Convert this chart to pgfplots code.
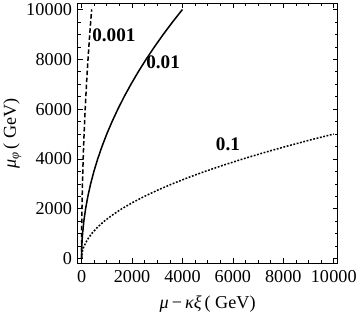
\documentclass[border=0pt]{standalone}
\usepackage{pgfplots}
\pgfplotsset{compat=1.18}
\usepackage{fontspec}
\setmainfont{Liberation Serif}
\begin{document}
\begin{tikzpicture}
\begin{axis}[
  scale only axis,
  width=258pt, height=258pt,
  xmin=-160, xmax=10160,
  ymin=-200, ymax=10250,
  scaled ticks=false,
  xtick={0,2000,4000,6000,8000,10000},
  ytick={0,2000,4000,6000,8000,10000},
  xticklabels={0,2000,4000,6000,8000,10\hspace{0.02em}000},
  yticklabels={0,2000,4000,6000,8000,10\hspace{0.02em}000},
  minor x tick num=3,
  minor y tick num=3,
  tick align=inside,
  major tick length=5pt,
  minor tick length=3pt,
  tick style={black, line width=0.6pt},
  axis line style={line width=0.9pt},
  tick label style={font=\fontsize{18}{20}\selectfont},
  yticklabel style={xshift=-2pt},
  xticklabel style={yshift=-3pt},
  label style={font=\fontsize{18}{20}\selectfont},
  xlabel={\textit{μ}\,−\,\textit{κξ}\,( GeV)},
  ylabel={\textit{μ}\textsubscript{\itshape φ}\,( GeV)},
  xlabel style={yshift=-6pt},
  ylabel style={yshift=-2pt},
  clip=true,
]
\addplot[black, line width=1.5pt, dash pattern=on 4.5pt off 2.5pt] coordinates {
(0,0) (0.25,250) (1,500) (4,1000) (9,1500) (16,2000) (25,2500) (36,3000) (49,3500) (64,4000) (81,4500) (100,5000) (121,5500) (144,6000) (169,6500) (196,7000) (225,7500) (256,8000) (289,8500) (324,9000) (361,9500) (400,10000)
};
\addplot[black, line width=1.5pt] coordinates {
(0,0) (0.4,100) (2.5,250) (10,500) (22.5,750) (40,1000) (90,1500) (160,2000) (250,2500) (360,3000) (490,3500) (640,4000) (810,4500) (1000,5000) (1210,5500) (1440,6000) (1690,6500) (1960,7000) (2250,7500) (2560,8000) (2890,8500) (3240,9000) (3610,9500) (4000,10000)
};
\addplot[black, line width=1.5pt, dash pattern=on 1.8pt off 1.6pt] coordinates {
(0,0) (1,50) (4,100) (9,150) (16,200) (25,250) (49,350) (100,500) (225,750) (400,1000) (625,1250) (900,1500) (1225,1750) (1600,2000) (2025,2250) (2500,2500) (3025,2750) (3600,3000) (4225,3250) (4900,3500) (5625,3750) (6400,4000) (7225,4250) (8100,4500) (9025,4750) (10000,5000)
};
\node[anchor=west, font=\fontsize{19}{21}\selectfont\bfseries, inner sep=0pt] at (axis cs:420,8950) {0.001};
\node[anchor=west, font=\fontsize{19}{21}\selectfont\bfseries, inner sep=0pt] at (axis cs:2560,7900) {0.01};
\node[anchor=west, font=\fontsize{19}{21}\selectfont\bfseries, inner sep=0pt] at (axis cs:5320,4600) {0.1};
\end{axis}
\end{tikzpicture}
\end{document}
